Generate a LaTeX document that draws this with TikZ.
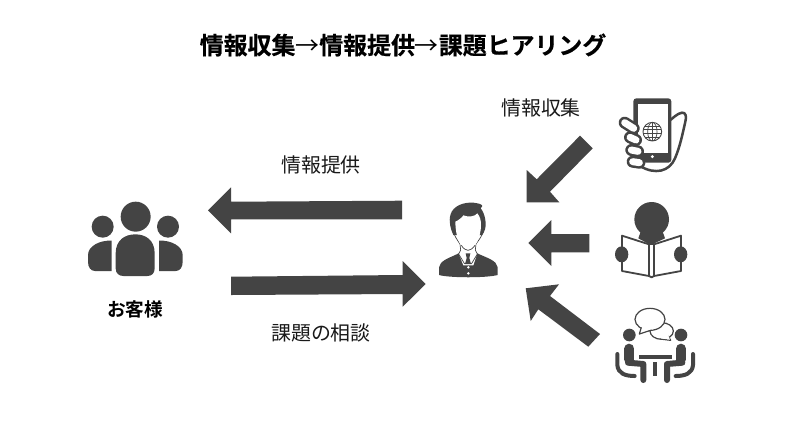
\documentclass[tikz,border=0pt]{standalone}
\usepackage{fontspec}
\setmainfont{Noto Sans CJK JP}
\newfontfamily\jpbold{Noto Sans CJK JP Bold}
\newfontfamily\jpheavy{Noto Sans CJK JP Bold}[FakeBold=0.5]
\definecolor{ink}{HTML}{444444}
\tikzset{
  blockarrow/.style={fill=ink,draw=none},
  icon/.style={fill=ink,draw=none},
  label/.style={inner sep=0pt,font=\fontsize{20}{20}\selectfont,text=black!90},
  zoomed/.style={x=1bp/3,y=-1bp/3},
}
\newcommand{\seatfig}{%
  \fill[ink] (88,435) circle (19);
  \draw[ink,line width=10bp,line cap=round,line join=round] (88,476) -- (88,508);
  \draw[ink,line width=6bp,line cap=round,line join=round] (84,518) -- (130,522) -- (130,570);
  \draw[ink,line width=4bp,line cap=round] (52,492) -- (52,525) .. controls (54,550) and (75,558) .. (104,558);
}
\begin{document}
\begin{tikzpicture}[x=1bp,y=-1bp]
\useasboundingbox (0,0) rectangle (800,420);
\fill[white] (0,0) rectangle (800,420);
% texts
\node[inner sep=0pt,font=\fontsize{24}{24}\selectfont\jpheavy] (title) at (403,45) {情報収集{\fontspec{Noto Sans CJK JP}→}情報提供{\fontspec{Noto Sans CJK JP}→}課題ヒアリング};
\node[label] (collect) at (541,108) {情報収集};
\node[label] (provide) at (321,165) {情報提供};
\node[label] (consult) at (321,333) {課題の相談};
\node[inner sep=0pt,font=\fontsize{18.7}{19}\selectfont\jpbold] (customer) at (135,309) {お客様};
% block arrows
\fill[blockarrow] (402,200.7) -- (231,201.7) -- (231,187.3) -- (208,210.3) -- (231,233.3) -- (231,219.3) -- (402,219.3) -- cycle;
\fill[blockarrow] (231,276.7) -- (402.7,275) -- (402.7,261) -- (425.7,284) -- (402.7,306.7) -- (402.7,294) -- (231,295) -- cycle;
\fill[blockarrow] (580,135.7) -- (536.7,179.3) -- (526.7,170) -- (526.7,202.3) -- (559.3,202.3) -- (550,191.7) -- (592.7,148.3) -- cycle;
\fill[blockarrow] (589.3,234) -- (551.3,234) -- (551.3,220) -- (528.3,243) -- (551.3,266) -- (551.3,252.3) -- (589.3,252.3) -- cycle;
\fill[blockarrow] (600,334) -- (550,296) -- (559,284.3) -- (525.7,288.3) -- (530.7,321) -- (538.3,309.3) -- (588.3,346.7) -- cycle;
% customers
\begin{scope}[shift={(70,190)},zoomed]
\fill[icon] (197,80) circle (45);
\fill[icon] (98,110) circle (33);
\fill[icon] (294,110) circle (33);
\fill[icon] (137,235) -- (137,190) .. controls (137,150) and (165,133) .. (196,133) .. controls (227,133) and (254,150) .. (254,190) -- (254,235) .. controls (254,250) and (245,258) .. (232,258) -- (160,258) .. controls (147,258) and (137,250) .. (137,235) -- cycle;
\fill[icon] (125,152) -- (125,243) -- (75,243) .. controls (62,243) and (54,232) .. (54,215) -- (54,195) .. controls (54,168) and (90,150) .. (125,152) -- cycle;
\fill[icon] (267,152) -- (267,243) -- (317,243) .. controls (330,243) and (338,232) .. (338,215) -- (338,195) .. controls (338,168) and (302,150) .. (267,152) -- cycle;
\end{scope}
% man
\begin{scope}[shift={(420,190)},zoomed]
\fill[icon] (57,255) -- (57,232) .. controls (60,212) and (85,205) .. (112,192) -- (128,180) -- (160,180) -- (176,192) .. controls (205,205) and (230,212) .. (233,232) -- (233,255) .. controls (200,264) and (90,264) .. (57,255) -- cycle;
\fill[white] (122,165) -- (166,165) -- (172,190) -- (160,226) -- (130,226) -- (116,190) -- cycle;
\draw[ink,line width=.7bp] (98,115) .. controls (100,135) and (112,150) .. (120,162) -- (122,180);
\draw[ink,line width=.7bp] (192,115) .. controls (190,135) and (176,150) .. (168,162) -- (166,180);
\draw[ink,line width=.7bp] (122,180) -- (116,192) -- (134,222);
\draw[ink,line width=.7bp] (166,180) -- (172,192) -- (154,222);
\fill[icon] (100,135) .. controls (92,118) and (85,95) .. (92,72) .. controls (100,48) and (130,36) .. (160,38) .. controls (175,40) and (185,42) .. (187,48) .. controls (186,52) and (184,54) .. (182,55) .. controls (195,70) and (200,100) .. (195,118) .. controls (193,125) and (190,130) .. (186,135) -- cycle;
\fill[white] (106,95) .. controls (118,90) and (128,80) .. (130,76) .. controls (145,82) and (165,80) .. (172,70) .. controls (180,80) and (183,90) .. (183,105) .. controls (183,140) and (165,180) .. (144,180) .. controls (122,180) and (106,140) .. (106,95) -- cycle;
\draw[ink,line width=.7bp] (124,166) .. controls (130,176) and (138,181) .. (144,181) .. controls (150,181) and (158,176) .. (165,166);
\fill[icon] (137,190) -- (151,190) -- (148,204) -- (153,222) -- (135,222) -- (140,204) -- cycle;
\fill[white] (145,232) circle (4);
\fill[white] (145,250) circle (4);
\end{scope}
% phone and hand
\begin{scope}[shift={(600,80)},zoomed]
\draw[ink,line width=2.5bp,fill=white,line join=round] (205,125) .. controls (218,115) and (232,100) .. (246,98) .. controls (258,97) and (260,110) .. (256,125) .. controls (248,160) and (240,200) .. (225,235) .. controls (208,275) and (165,285) .. (120,258) -- cycle;
\fill[icon,rounded corners=3bp] (100,55) rectangle (214,248);
\fill[white] (113,72) rectangle (203,218);
\fill[white] (157,230) circle (5);
\begin{scope}
\clip (157,155) circle (28);
\draw[ink,line width=.7bp] (157,155) ellipse (14 and 28);
\draw[ink,line width=.7bp] (157,127) -- (157,183);
\foreach \yy in {138,149,161,172} \draw[ink,line width=.7bp] (125,\yy) -- (190,\yy);
\end{scope}
\draw[ink,line width=.9bp] (157,155) circle (28);
\foreach \ax/\ay/\bx/\by in {74/128/101/145, 90/172/108/180, 94/210/114/214, 98/245/118/248}{
  \draw[ink,line width=12bp,line cap=round] (\ax,\ay) -- (\bx,\by);
  \draw[white,line width=7bp,line cap=round] (\ax,\ay) -- (\bx,\by);
}
\end{scope}
% reader
\begin{scope}[shift={(600,190)},zoomed]
\fill[icon] (155,88) circle (52);
\fill[icon] (122,125) -- (188,125) -- (195,145) -- (152,165) -- (115,145) -- cycle;
\draw[ink,line width=1.8bp,fill=white,line join=round] (66,137) -- (147,163) -- (147,258) -- (66,243) -- cycle;
\draw[ink,line width=1.8bp,fill=white,line join=round] (162,163) -- (243,137) -- (243,243) -- (162,258) -- cycle;
\draw[ink,line width=1.8bp,line join=round] (147,258) -- (155,262) -- (162,258);
\draw[ink,line width=1.8bp] (147,163) -- (162,163);
\fill[icon] (65,193) ellipse (20 and 24);
\fill[icon] (242,193) ellipse (20 and 24);
% meeting
\draw[ink,line width=1.2bp,fill=white] (185,423) ellipse (35 and 25);
\draw[ink,line width=1.2bp,fill=white,line join=round] (205,438) -- (212,451) -- (180,447);
\fill[white] (205,436) -- (210,449) -- (182,445) -- cycle;
\draw[ink,line width=1.2bp,fill=white] (150,388) ellipse (45 and 33);
\fill[white] (124,408) -- (118,432) -- (158,418) -- cycle;
\draw[ink,line width=1.2bp,line join=round] (124,412) -- (118,432) -- (155,420);
\seatfig
\begin{scope}[xshift=331/3*1bp,xscale=-1]
\seatfig
\end{scope}
\fill[icon] (118,494) rectangle (215,508);
\fill[icon] (160,515) rectangle (170,558);
\end{scope}
\end{tikzpicture}
\end{document}
